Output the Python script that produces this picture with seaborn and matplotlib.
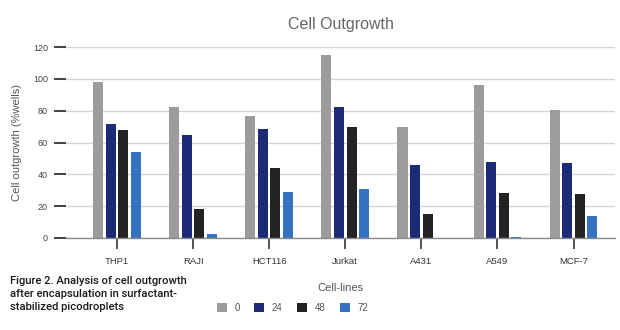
import matplotlib
matplotlib.use("Agg")
import matplotlib.pyplot as plt
import seaborn as sns
import pandas as pd
from matplotlib.patches import Patch

cell_lines = ["THP1", "RAJI", "HCT116", "Jurkat", "A431", "A549", "MCF-7"]
hours = ["0", "24", "48", "72"]
vals_0 = [98.4, 82.6, 76.9, 115.4, 70.0, 96.5, 80.7]
vals_24 = [71.5, 64.9, 68.3, 82.6, 46.0, 47.9, 47.3]
vals_48 = [67.7, 18.3, 44.1, 70.0, 15.1, 28.4, 27.5]
vals_72 = [54.0, 2.3, 29.0, 30.7, 0.0, 0.3, 13.9]
y_ticks = [0, 20, 40, 60, 80, 100, 120]
colors = ["#9c9c9c", "#1d2b77", "#232323", "#3572c2"]

rows = []
for h, vals in zip(hours, [vals_0, vals_24, vals_48, vals_72]):
    for c, v in zip(cell_lines, vals):
        rows.append({"Cell-lines": c, "hour": h, "value": v})
df = pd.DataFrame(rows)

sns.set_theme(style="white")
plt.rcParams["font.family"] = ["Liberation Sans", "DejaVu Sans"]

fig = plt.figure(figsize=(6.2, 3.3), dpi=100)
ax = fig.add_axes([0.1065, 0.279, 0.886, 0.578])

sns.barplot(data=df, x="Cell-lines", y="value", hue="hour", order=cell_lines,
            hue_order=hours, palette=colors, width=0.66, gap=0.2,
            saturation=1, ax=ax, legend=False, edgecolor="none")

ax.set_ylim(0, 120)
ax.set_xlim(-0.67, 6.55)
ax.set_yticks(y_ticks)
ax.set_yticklabels([str(t) for t in y_ticks], fontsize=6.5, color="#444444")
ax.tick_params(axis="y", length=9, width=1.3, color="#333333", pad=4, left=True)
ax.tick_params(axis="x", length=8, width=1.2, color="#333333", pad=6, bottom=True,
               labelsize=6.8, labelcolor="#333333")
ax.grid(axis="y", color="#d6d6d6", linewidth=1.0)
ax.set_axisbelow(True)
for s in ["top", "right", "left"]:
    ax.spines[s].set_visible(False)
ax.spines["bottom"].set_color("#8a8a8a")
ax.spines["bottom"].set_linewidth(1.0)

ax.set_xlabel("Cell-lines", fontsize=8, color="#555555", labelpad=12)
ax.set_ylabel("Cell outgrowth (%wells)", fontsize=8, color="#555555", labelpad=8)
ax.set_title("Cell Outgrowth", fontsize=11.5, color="#666666", pad=13)

handles = [Patch(facecolor=c, edgecolor="none", label=h) for c, h in zip(colors, hours)]
fig.legend(handles=handles, loc="center", bbox_to_anchor=(0.472, 0.068), ncol=4,
           frameon=False, fontsize=7, labelcolor="#555555", handlelength=1.0,
           handleheight=1.0, columnspacing=1.5, handletextpad=0.8)

fig.text(0.016, 0.163, "Figure 2. Analysis of cell outgrowth\nafter encapsulation in surfactant-\nstabilized picodroplets",
         fontsize=8.1, family=["Roboto", "DejaVu Sans"], weight="medium",
         color="#1a1a1a", va="top", ha="left", linespacing=1.36)

fig.savefig("out.png", dpi=100, facecolor="white")
